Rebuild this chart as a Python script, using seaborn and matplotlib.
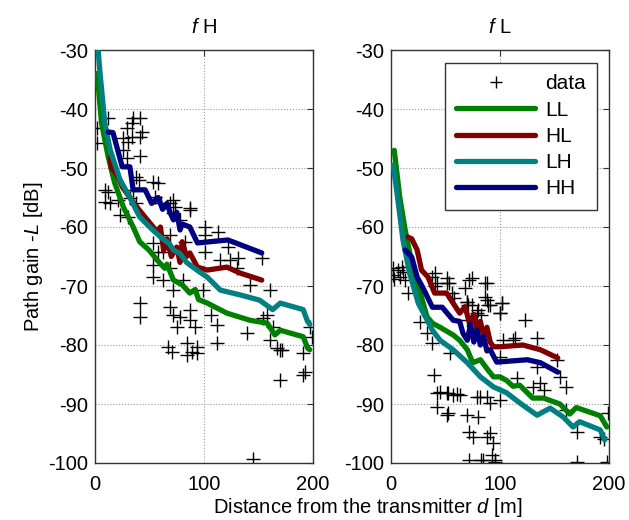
import numpy as np
import pandas as pd
import seaborn as sns
import matplotlib
matplotlib.use('Agg')
from matplotlib import pyplot as plt
from matplotlib.lines import Line2D

# ---- data ----
# left panel: f H
fh_data_d = [1.8, 1.8, 12, 35, 41, 34, 29, 43, 34, 41, 26, 30, 26, 41, 29, 38, 40, 53, 58, 9, 12, 9, 14,
             21, 32, 35, 38, 72, 69, 73, 87, 72, 55, 61, 23, 30, 87, 78, 101, 113, 101, 69, 53, 83, 101,
             122, 115, 124, 131, 153, 58, 62, 53, 69, 130, 53, 62, 81, 142, 161, 72, 99, 41, 41, 69, 87,
             72, 78, 106, 87, 75, 92, 112, 67, 84, 94, 112, 71, 89, 139, 158, 163, 161, 170, 197, 199,
             191, 84, 94, 167, 172, 170, 193, 191, 145, 154]
fh_data_L = [-43.2, -45.8, -41.5, -41.5, -41.5, -42.4, -43.2, -43.9, -44.7, -44.7, -44.9, -45.6, -47, -48,
             -48.3, -51.5, -52, -52.4, -52.5, -53.7, -54, -55.8, -56, -55.4, -55, -53.7, -56, -55.4, -56,
             -56.6, -57.1, -57.6, -54.9, -56, -58, -58.3, -56.8, -58.8, -60, -60.8, -61.4, -61.4, -62.7,
             -62.5, -64.2, -63.4, -65.6, -65.6, -65.3, -65.3, -64.2, -64.2, -66.4, -67, -67, -68.5, -69,
             -69, -69.8, -70.7, -70.7, -70.7, -72.9, -75.2, -73.6, -74.1, -74.9, -75.2, -74.9, -75.8, -77,
             -77, -76.6, -80.3, -79.7, -80.3, -79.7, -81.2, -81.2, -78, -74.9, -77, -79.2, -80.8, -77,
             -78.6, -81.4, -81.7, -81.4, -80.5, -80.8, -86, -84.6, -85, -99.3, -75.4]

fh_LL_d = [2, 6, 12, 18, 26, 35, 41, 50, 57, 64, 66, 72, 80, 87, 92, 95, 103, 121, 142, 158, 165, 170, 191, 195, 197]
fh_LL_L = [-34, -42.4, -48, -52.5, -56.6, -60, -62.5, -64, -65.6, -67, -66.3, -69, -69.8, -71.2, -70.6, -72.3,
           -72.9, -74.6, -75.8, -76.3, -78.3, -77.5, -78.6, -80.5, -80.8]
fh_HL_d = [14, 15, 20, 25, 32, 40, 48, 57, 60, 63, 66, 70, 75, 78, 80, 84, 87, 94, 103, 121, 133, 153]
fh_HL_L = [-48.3, -50, -51, -53.2, -55, -57, -58.8, -60.8, -60, -64, -62, -65, -63.4, -66, -62.5, -65,
           -64.4, -66.8, -67.3, -66.8, -67.8, -69]
fh_LH_d = [2, 4.6, 9, 14, 23, 32, 41, 53, 62, 68, 72, 78, 84, 95, 103, 115, 133, 151, 163, 170, 191, 195, 197]
fh_LH_L = [-28, -33.9, -42.4, -47, -52, -55, -58.3, -60.5, -62, -62.8, -63.9, -64.5, -66, -67.5, -68.5,
           -70.7, -71.5, -72.4, -74, -72.9, -74, -76, -76.5]
fh_HH_d = [12, 16.5, 20, 25, 32, 35, 41, 46, 52, 58, 62, 66, 69, 72, 75, 78, 80, 87, 94, 122, 153]
fh_HH_L = [-43.9, -44, -46.4, -49.8, -49.8, -53.7, -53.7, -53.7, -56, -55, -57, -56, -57.6, -58.8, -57.5,
           -60.5, -59.5, -60, -62.7, -62.2, -64.4]

# right panel: f L
fl_data_d = [2, 6, 10, 2, 8, 11, 13, 3, 16, 40, 38, 42, 40, 51, 53, 56, 58, 74, 86, 68, 86, 70, 71, 89, 80,
             102, 100, 83, 70, 27, 51, 70, 74, 88, 88, 91, 102, 100, 79, 123, 103, 114, 134, 100, 134, 152,
             155, 161, 116, 130, 137, 140, 51, 57, 63, 51, 70, 82, 80, 88, 91, 100, 45, 72, 75, 91, 94, 93,
             72, 84, 95, 171, 171, 192, 195, 198, 199, 161, 39, 42, 52, 61, 42, 52, 79, 88, 83, 95, 33, 38,
             54, 72, 112]
fl_data_L = [-67, -67.3, -66.8, -68.1, -68.5, -67.6, -69, -68.8, -71.2, -67.8, -68.5, -69.5, -70, -68.6,
             -69.5, -71.2, -72, -68.6, -69.5, -70.3, -71.9, -72.7, -73.2, -73.2, -74, -72.9, -74.6, -74.9,
             -75.8, -76.1, -69.5, -72.7, -73.2, -69.5, -72.4, -73.2, -72.9, -74.6, -74.6, -75.8, -79.2,
             -78.8, -78.8, -82, -83.7, -82.5, -85.4, -87.1, -85.6, -87.1, -86.5, -87.6, -88.1, -88.5,
             -88.5, -91.9, -91.9, -88.8, -92.2, -88.8, -89.8, -89.3, -88, -94.7, -95.6, -94.9, -96.6,
             -98.6, -99.5, -99.5, -99.8, -94.7, -99.8, -95.6, -96, -99.8, -91.5, -91, -85.1, -88.1, -88.1,
             -88.3, -90.5, -91.5, -88.8, -95.6, -99.5, -99.5, -78, -79.7, -81.4, -69, -79.2]

fl_LL_d = [3, 8, 13, 19, 28, 33, 38, 45, 57, 63, 70, 75, 82, 88, 94, 100, 106, 112, 118, 130, 140, 155, 164, 170, 192, 198]
fl_LL_L = [-47, -54.9, -60.5, -66, -71.9, -75.2, -76.3, -77, -78.3, -79.2, -80.8, -83, -82.5, -84, -85.4,
           -85.4, -86, -87, -86.8, -89, -89, -90, -91.7, -90.6, -92, -93.9]
fl_HL_d = [15.5, 19, 24, 28, 34, 40, 45, 51, 57, 63, 68, 72, 76, 79, 82, 85, 88, 91, 94, 100, 121, 137, 153]
fl_HL_L = [-61.7, -62, -63.9, -67.3, -68.5, -71.2, -71.2, -71.2, -72.9, -74.6, -73.5, -76.3, -74.8, -77.5,
           -76, -78.5, -77, -79.5, -80.3, -80.3, -80, -80.8, -82.2]
fl_LH_d = [2, 6, 11, 17, 25, 38, 45, 57, 70, 82, 94, 106, 118, 134, 146, 158, 167, 173, 192, 196]
fl_LH_L = [-49.5, -54.9, -62.2, -67.8, -72.9, -77.5, -79.2, -80.8, -83, -85.4, -87.1, -88.1, -89.8, -91.9,
           -90.7, -92.2, -93.9, -93, -94.4, -96.1]
fl_HH_d = [13, 19, 24, 29, 38, 47, 57, 63, 66, 70, 73, 76, 79, 82, 85, 88, 91, 97, 125, 137, 153]
fl_HH_L = [-63.9, -65.1, -68.5, -70.2, -73.6, -73.6, -75.8, -76, -78, -79.2, -76.5, -79.5, -77.5, -80,
           -78.6, -81, -80.8, -82.9, -82.5, -83, -84.6]

series = ['LL', 'HL', 'LH', 'HH']
colors = {'LL': '#008000', 'HL': '#800000', 'LH': '#008080', 'HH': '#000080'}

panels = [
    ('$f$ H', fh_data_d, fh_data_L, [(fh_LL_d, fh_LL_L), (fh_HL_d, fh_HL_L), (fh_LH_d, fh_LH_L), (fh_HH_d, fh_HH_L)]),
    ('$f$ L', fl_data_d, fl_data_L, [(fl_LL_d, fl_LL_L), (fl_HL_d, fl_HL_L), (fl_LH_d, fl_LH_L), (fl_HH_d, fl_HH_L)]),
]

sns.set_style('white')
plt.rcParams['font.family'] = ['Liberation Sans', 'DejaVu Sans']
plt.rcParams['mathtext.fontset'] = 'custom'
plt.rcParams['mathtext.it'] = 'Liberation Sans:italic'
plt.rcParams['mathtext.rm'] = 'Liberation Sans'
plt.rcParams['axes.unicode_minus'] = False
for key in ['text.color', 'axes.labelcolor', 'xtick.labelcolor', 'ytick.labelcolor']:
    plt.rcParams[key] = 'black'

fig = plt.figure(figsize=(6.29, 5.2), dpi=100)
axes = [fig.add_axes([95 / 629, 57 / 520, 218 / 629, 413 / 520]),
        fig.add_axes([391 / 629, 57 / 520, 218 / 629, 413 / 520])]

for ax, (title, dd, LL, lines) in zip(axes, panels):
    pts = pd.DataFrame({'d': dd, 'L': LL})
    sns.scatterplot(data=pts, x='d', y='L', marker='+', color='k', s=100, linewidth=1.0, ax=ax, zorder=2)
    for name, (xd, yl) in zip(series, lines):
        df = pd.DataFrame({'d': xd, 'L': yl})
        sns.lineplot(data=df, x='d', y='L', sort=False, color=colors[name], lw=3.8, ax=ax, zorder=3)
    ax.set_xlim(0, 200)
    ax.set_ylim(-100, -30)
    ax.set_xticks([0, 100, 200])
    ax.set_yticks(np.arange(-100, -29, 10))
    ax.grid(True, linestyle=':', color='#999999', lw=0.8)
    ax.tick_params(direction='in', top=True, right=True, labelsize=14.5, length=4, color='#333333',
                   labelcolor='black')
    ax.tick_params(axis='x', pad=9)
    ax.tick_params(axis='y', pad=5)
    for s in ax.spines.values():
        s.set_color('#333333')
        s.set_linewidth(1.0)
    ax.set_title(title, fontsize=14.5, pad=12, color='black')
    ax.set_xlabel('')
    ax.set_ylabel('')

axes[0].set_ylabel('Path gain -$L$ [dB]', fontsize=14.5, labelpad=2, color='black')
fig.text(368 / 629, 7 / 520, 'Distance from the transmitter $d$ [m]', fontsize=14.5, ha='center',
         va='baseline', color='black')

handles = [Line2D([], [], marker='+', color='k', ls='none', markersize=9, markeredgewidth=1)]
handles += [Line2D([], [], color=colors[n], lw=3.8) for n in series]
leg = axes[1].legend(handles, ['data'] + series, loc='upper right', bbox_to_anchor=(0.945, 0.969),
                     borderaxespad=0, fontsize=15, handlelength=3.8, handletextpad=0.45, fancybox=False,
                     framealpha=1, edgecolor='#333333', labelspacing=0.35, borderpad=0.55)
for t in leg.get_texts():
    t.set_color('black')

fig.savefig('out.png', dpi=100)
